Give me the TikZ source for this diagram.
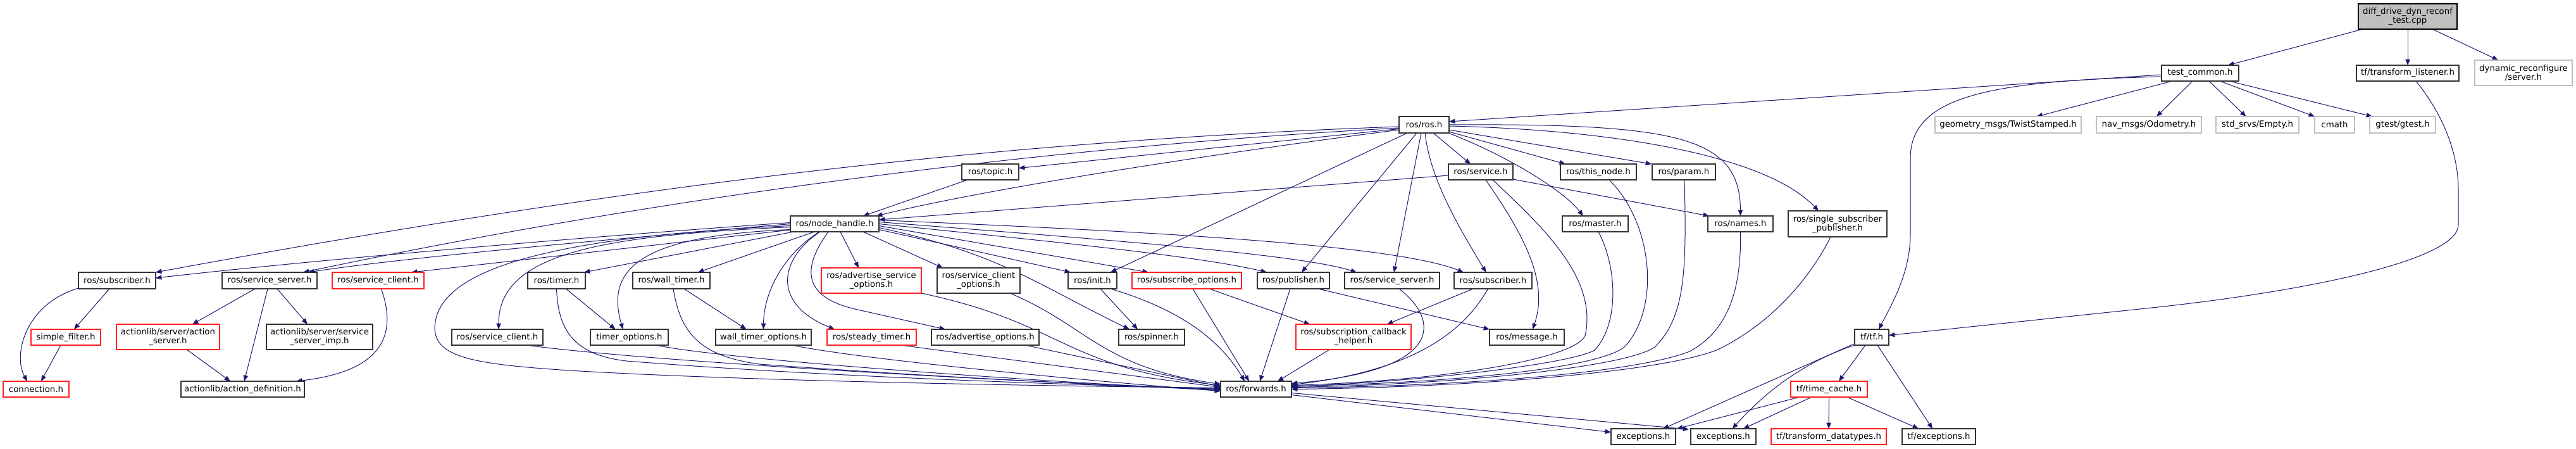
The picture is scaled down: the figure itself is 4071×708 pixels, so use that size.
\documentclass[tikz,border=0pt]{standalone}
\usepackage{fontspec}
\setmainfont{DejaVu Sans}
\usetikzlibrary{arrows.meta,calc}
\definecolor{edgec}{HTML}{191970}
\definecolor{grayb}{HTML}{BFBFBF}
\definecolor{redb}{HTML}{FF2020}
\pgfdeclarelayer{bg}
\pgfsetlayers{bg,main}
\tikzset{
 nbase/.style={draw, line width=1pt, inner sep=0pt, outer sep=0pt, align=center,
   font=\fontsize{10}{10.5}\selectfont, fill=white},
 blk/.style={nbase, draw=black!80},
 redn/.style={nbase, draw=redb},
 gryn/.style={nbase, draw=grayb},
 rootn/.style={nbase, draw=black, fill=grayb},
 dep/.style={draw=edgec, line width=0.75pt, -{Triangle[length=7pt,width=5.5pt]}},
}
\newcommand\nd[7]{\node[#6, minimum width={(#4-#2)*0.75pt}, minimum height={(#5-#3)*0.75pt}] (#1) at ({(#2+#4)/2},{(#3+#5)/2}) {#7};}
\begin{document}
\begin{tikzpicture}[x=0.75pt,y=-0.75pt]
\useasboundingbox (0,0) rectangle (4071,708);
\begin{pgfonlayer}{bg}
\fill[white] (0,0) rectangle (4071,708);
\end{pgfonlayer}
% nodes
\nd{root}{3727}{6}{3883}{46}{rootn}{diff\_drive\_dyn\_reconf\\\_test.cpp}
\nd{tc}{3416}{103}{3538}{128}{blk}{test\_common.h}
\nd{tfl}{3724}{103}{3886}{128}{blk}{tf/transform\_listener.h}
\nd{dyn}{3911}{95}{4065}{135}{gryn}{dynamic\_reconfigure\\/server.h}
\nd{ros}{2211}{184}{2290}{210}{blk}{ros/ros.h}
\nd{geo}{3058}{184}{3289}{210}{gryn}{geometry\_msgs/TwistStamped.h}
\nd{nav}{3313}{184}{3479}{210}{gryn}{nav\_msgs/Odometry.h}
\nd{srv}{3502}{184}{3633}{210}{gryn}{std\_srvs/Empty.h}
\nd{cmath}{3658}{184}{3721}{210}{gryn}{cmath}
\nd{gtest}{3745}{184}{3849}{210}{gryn}{gtest/gtest.h}
\nd{topic}{1520}{259}{1610}{284}{blk}{ros/topic.h}
\nd{service}{2289}{259}{2391}{284}{blk}{ros/service.h}
\nd{thisnode}{2466}{259}{2586}{284}{blk}{ros/this\_node.h}
\nd{param}{2611}{259}{2711}{284}{blk}{ros/param.h}
\nd{nh}{1249}{341}{1389}{366}{blk}{ros/node\_handle.h}
\nd{master}{2469}{341}{2573}{366}{blk}{ros/master.h}
\nd{names}{2699}{341}{2802}{366}{blk}{ros/names.h}
\nd{ssp}{2826}{333}{2982}{374}{blk}{ros/single\_subscriber\\\_publisher.h}
\nd{subL}{124}{430}{246}{456}{blk}{ros/subscriber.h}
\nd{ssL}{351}{430}{501}{456}{blk}{ros/service\_server.h}
\nd{scR}{525}{430}{670}{456}{redn}{ros/service\_client.h}
\nd{timer}{834}{430}{925}{456}{blk}{ros/timer.h}
\nd{wtimer}{1000}{430}{1122}{456}{blk}{ros/wall\_timer.h}
\nd{aso}{1298}{423}{1456}{463}{redn}{ros/advertise\_service\\\_options.h}
\nd{sco}{1481}{423}{1612}{463}{blk}{ros/service\_client\\\_options.h}
\nd{init}{1688}{430}{1765}{456}{blk}{ros/init.h}
\nd{subo}{1789}{430}{1962}{456}{redn}{ros/subscribe\_options.h}
\nd{pub}{1987}{430}{2101}{456}{blk}{ros/publisher.h}
\nd{ssR}{2125}{430}{2275}{456}{blk}{ros/service\_server.h}
\nd{subR}{2298}{430}{2421}{456}{blk}{ros/subscriber.h}
\nd{sf}{49}{520}{159}{545}{redn}{simple\_filter.h}
\nd{as}{184}{512}{347}{552}{redn}{actionlib/server/action\\\_server.h}
\nd{ssi}{421}{512}{589}{552}{blk}{actionlib/server/service\\\_server\_imp.h}
\nd{sc2}{714}{520}{858}{545}{blk}{ros/service\_client.h}
\nd{to}{933}{520}{1056}{545}{blk}{timer\_options.h}
\nd{wto}{1131}{520}{1282}{545}{blk}{wall\_timer\_options.h}
\nd{st}{1307}{520}{1448}{545}{redn}{ros/steady\_timer.h}
\nd{ao}{1472}{520}{1642}{545}{blk}{ros/advertise\_options.h}
\nd{spin}{1768}{520}{1872}{545}{blk}{ros/spinner.h}
\nd{sch}{2048}{512}{2230}{552}{redn}{ros/subscription\_callback\\\_helper.h}
\nd{msg}{2354}{520}{2472}{545}{blk}{ros/message.h}
\nd{tf}{2931}{520}{2985}{545}{blk}{tf/tf.h}
\nd{conn}{5}{602}{109}{627}{redn}{connection.h}
\nd{ad}{286}{602}{481}{627}{blk}{actionlib/action\_definition.h}
\nd{fwd}{1929}{602}{2041}{627}{blk}{ros/forwards.h}
\nd{tc2}{2830}{602}{2951}{627}{redn}{tf/time\_cache.h}
\nd{ex1}{2546}{677}{2648}{702}{blk}{exceptions.h}
\nd{ex2}{2672}{677}{2775}{702}{blk}{exceptions.h}
\nd{td}{2799}{677}{2981}{702}{redn}{tf/transform\_datatypes.h}
\nd{tfe}{3006}{677}{3122}{702}{blk}{tf/exceptions.h}
% edges
\begin{pgfonlayer}{bg}
% root
\draw[dep] ($(root.south west)+(7,0)$) -- ($(tc.north east)+(-17,0)$);
\draw[dep] (root.south) -- (tfl.north);
\draw[dep] ($(root.south east)+(-39,0)$) -- ($(dyn.north)+(-40,0)$);
% test_common
\draw[dep] ($(tc.west)+(0,2.5)$) -- ($(ros.east)+(0,-5)$);
\draw[dep] ($(tc.west)+(0,5.5)$) .. controls (3150,128) and (3019,150) .. (3019,250) -- (3019,370) .. controls (3019,430) and (2990,480) .. ($(tf.north)+(11,0)$);
\draw[dep] ($(tc.south west)+(17,0)$) -- ($(geo.north)+(45,0)$);
\draw[dep] ($(tc.south)+(-12,0)$) -- ($(nav.north)+(12,0)$);
\draw[dep] ($(tc.south)+(14,0)$) -- ($(srv.north)+(-18,0)$);
\draw[dep] ($(tc.south)+(31,0)$) -- (cmath.north west);
\draw[dep] ($(tc.south)+(46,0)$) -- ($(gtest.north)+(-48,0)$);
% transform_listener
\draw[dep] ($(tfl.south)+(13,0)$) .. controls (3860,180) and (3885,240) .. (3885,300) -- (3885,355) .. controls (3885,410) and (3650,460) .. (3391,487) -- ($(tf.east)+(0,-3)$);
% ros.h
\draw[dep] ($(ros.west)+(0,3)$) .. controls (1500,225) and (900,310) .. (subL.north east);
\draw[dep] ($(ros.west)+(0,5)$) .. controls (1600,235) and (1000,320) .. ($(ssL.north east)+(-22,0)$);
\draw[dep] ($(ros.west)+(0,6.5)$) -- ($(topic.east)+(0,-6)$);
\draw[dep] ($(ros.west)+(0,8)$) .. controls (1900,245) and (1550,300) .. ($(nh.north east)+(-4,0)$);
\draw[dep] ($(ros.south west)+(13,0)$) -- ($(init.north east)+(-10,0)$);
\draw[dep] ($(ros.south west)+(28,0)$) -- ($(pub.north)+(13,0)$);
\draw[dep] ($(ros.south west)+(35,0)$) -- ($(ssR.north)+(3,0)$);
\draw[dep] ($(ros.south west)+(41,0)$) .. controls (2260,280) and (2300,350) .. ($(subR.north)+(-11,0)$);
\draw[dep] ($(ros.south west)+(54,0)$) -- ($(service.north)+(-16,0)$);
\draw[dep] ($(ros.south east)+(-1,0)$) .. controls (2380,245) and (2470,300) .. ($(master.north)+(-19,0)$);
\draw[dep] ($(ros.east)+(0,11)$) -- ($(thisnode.north west)+(8,0)$);
\draw[dep] ($(ros.east)+(0,8)$) -- ($(param.north west)+(-1,0)$);
\draw[dep] (ros.east) .. controls (2650,195) and (2750,215) .. (names.north);
\draw[dep] ($(ros.east)+(0,2)$) .. controls (2550,205) and (2790,245) .. ($(ssp.north)+(-30,0)$);
% service.h
\draw[dep] ($(service.west)+(0,5.5)$) -- ($(nh.east)+(0,-6.5)$);
\draw[dep] ($(service.south east)+(0,-1)$) -- ($(names.north west)+(2,0)$);
\draw[dep] ($(service.south)+(8,0)$) .. controls (2400,360) and (2450,440) .. ($(msg.north)+(9,0)$);
\draw[dep] ($(service.south)+(19,0)$) .. controls (2440,360) and (2525,440) .. (2505,530) .. controls (2490,565) and (2300,600) .. ($(fwd.east)+(0,-6)$);
% this_node, param, master, names, ssp
\draw[dep] ($(thisnode.south)+(17,0)$) .. controls (2610,350) and (2625,480) .. (2570,545) .. controls (2540,580) and (2300,605) .. ($(fwd.east)+(0,-5)$);
\draw[dep] ($(param.south)+(1,0)$) .. controls (2665,420) and (2665,500) .. (2615,548) .. controls (2570,580) and (2300,607) .. ($(fwd.east)+(0,-3)$);
\draw[dep] ($(master.south)+(5,0)$) .. controls (2555,420) and (2560,510) .. (2520,553) .. controls (2480,575) and (2250,602) .. ($(fwd.east)+(0,-4)$);
\draw[dep] (names.south) .. controls (2752,450) and (2735,520) .. (2670,555) .. controls (2580,590) and (2300,610) .. ($(fwd.east)+(0,-2)$);
\draw[dep] ($(ssp.south)+(-11,0)$) .. controls (2860,440) and (2800,510) .. (2715,552) .. controls (2620,590) and (2300,612) .. (fwd.east);
% topic
\draw[dep] ($(topic.south west)+(9,0)$) -- ($(nh.north east)+(-25,0)$);
% node_handle
\draw[dep] ($(nh.west)+(0,-2)$) .. controls (950,372) and (500,410) .. ($(subL.east)+(0,-4)$);
\draw[dep] (nh.west) .. controls (1000,375) and (650,405) .. ($(ssL.north east)+(-14,0)$);
\draw[dep] ($(nh.south west)+(0,-3)$) -- ($(scR.north east)+(-20,0)$);
\draw[dep] ($(nh.west)+(0,5)$) .. controls (950,372) and (788,400) .. ($(sc2.north)+(2,0)$);
\draw[dep] ($(nh.west)+(0,3)$) .. controls (850,375) and (690,430) .. (687,517) .. controls (687,565) and (750,575) .. (900,585) .. controls (1200,603) and (1700,610) .. ($(fwd.west)+(0,-2)$);
\draw[dep] ($(nh.south west)+(5,0)$) -- ($(timer.north east)+(-2,0)$);
\draw[dep] ($(nh.south west)+(38,0)$) -- ($(wtimer.north east)+(-19,0)$);
\draw[dep] ($(nh.west)+(0,9)$) .. controls (1020,372) and (955,420) .. ($(to.north)+(-10,0)$);
\draw[dep] ($(nh.south)+(-24,0)$) .. controls (1240,400) and (1207,460) .. (wto.north);
\draw[dep] ($(nh.south)+(-23,0)$) .. controls (1230,410) and (1220,480) .. ($(st.north west)+(12,0)$);
\draw[dep] ($(nh.south)+(-10,0)$) .. controls (1270,420) and (1262,470) .. (1360,490) -- ($(ao.north west)+(22,0)$);
\draw[dep] ($(nh.south)+(9,0)$) -- ($(aso.north west)+(59,0)$);
\draw[dep] ($(nh.south east)+(-25,0)$) -- ($(sco.north west)+(9,0)$);
\draw[dep] ($(nh.east)+(0,9)$) -- ($(init.north west)+(4,0)$);
\draw[dep] ($(nh.east)+(0,6)$) .. controls (1580,400) and (1640,450) .. ($(spin.north west)+(17,0)$);
\draw[dep] ($(nh.east)+(0,3)$) -- ($(subo.north west)+(26,0)$);
\draw[dep] (nh.east) .. controls (1650,380) and (1900,405) .. ($(pub.north west)+(15,0)$);
\draw[dep] ($(nh.east)+(0,-3)$) .. controls (1700,375) and (2050,400) .. ($(ssR.north west)+(19,0)$);
\draw[dep] ($(nh.east)+(0,-6)$) .. controls (1800,365) and (2200,385) .. ($(subR.north west)+(15,0)$);
% left cluster
\draw[dep] ($(subL.south)+(-12,0)$) -- ($(sf.north)+(13,0)$);
\draw[dep] ($(subL.south west)+(0,-1)$) .. controls (40,480) and (20,560) .. ($(conn.north)+(-14,0)$);
\draw[dep] ($(sf.south)+(-8,0)$) -- ($(conn.north)+(8,0)$);
\draw[dep] ($(ssL.south west)+(52,0)$) -- ($(as.north east)+(-43,0)$);
\draw[dep] ($(ssL.south)+(-3,0)$) -- ($(ad.north)+(2.5,0)$);
\draw[dep] ($(ssL.south)+(12,0)$) -- ($(ssi.north)+(-19,0)$);
\draw[dep] ($(as.south)+(29.5,0)$) -- ($(ad.north)+(-19.5,0)$);
\draw[dep] ($(scR.south)+(5,0)$) .. controls (625,520) and (615,585) .. ($(ad.north east)+(-13,0)$);
% timers
\draw[dep] ($(timer.south)+(15,0)$) -- ($(to.north)+(-22,0)$);
\draw[dep] (timer.south) .. controls (882,520) and (905,560) .. (990,570) .. controls (1300,595) and (1700,608) .. ($(fwd.west)+(0,-1)$);
\draw[dep] ($(wtimer.south)+(20,0)$) -- ($(wto.north)+(-27,0)$);
\draw[dep] ($(wtimer.south)+(3,0)$) .. controls (1075,525) and (1105,562) .. (1200,575) .. controls (1500,597) and (1750,608) .. (fwd.west);
\draw[dep] ($(sc2.south)+(46,0)$) .. controls (1000,568) and (1500,598) .. ($(fwd.west)+(0,1)$);
\draw[dep] ($(to.south east)+(-20,0)$) .. controls (1150,568) and (1600,600) .. ($(fwd.west)+(0,2)$);
\draw[dep] ($(wto.south east)+(-30,0)$) .. controls (1350,566) and (1700,600) .. ($(fwd.west)+(0,3)$);
\draw[dep] ($(st.south east)+(-25,0)$) -- ($(fwd.west)+(0,-3)$);
\draw[dep] ($(ao.south east)+(-22,0)$) -- ($(fwd.west)+(0,-4)$);
\draw[dep] (aso.south east) .. controls (1680,510) and (1680,580) .. ($(fwd.west)+(0,-6)$);
\draw[dep] ($(sco.south east)+(-16,0)$) .. controls (1720,515) and (1740,580) .. ($(fwd.west)+(0,-8)$);
% init, subscribe_options, publisher
\draw[dep] ($(init.south east)+(-26,0)$) -- ($(spin.north west)+(30,0)$);
\draw[dep] ($(init.south east)+(-10,0)$) .. controls (1870,490) and (1930,540) .. ($(fwd.north west)+(38,0)$);
\draw[dep] ($(subo.south)+(9.5,0)$) -- ($(fwd.north west)+(45,0)$);
\draw[dep] ($(subo.south)+(35.5,0)$) -- ($(sch.north west)+(22,0)$);
\draw[dep] ($(pub.south)+(-5,0)$) -- ($(fwd.north)+(6,0)$);
\draw[dep] ($(pub.south east)+(-18,0)$) -- (msg.north west);
\draw[dep] ($(sch.south west)+(53,0)$) -- ($(fwd.north east)+(-22,0)$);
\draw[dep] ($(ssR.south)+(11,0)$) .. controls (2275,505) and (2285,585) .. ($(fwd.east)+(0,-9)$);
\draw[dep] ($(subR.south)+(-8,0)$) .. controls (2315,520) and (2240,585) .. ($(fwd.east)+(0,-7)$);
\draw[dep] ($(subR.south)+(-31.5,0)$) -- ($(sch.north east)+(-38,0)$);
% forwards -> exceptions
\draw[dep] ($(fwd.east)+(0,6)$) -- ($(ex2.north west)+(-3,1)$);
\draw[dep] ($(fwd.east)+(0,9)$) -- ($(ex1.west)+(0,-7)$);
% tf
\draw[dep] ($(tf.west)+(0,10)$) -- ($(ex1.north)+(31,0)$);
\draw[dep] (tf.south west) .. controls (2840,575) and (2780,630) .. ($(ex2.north)+(14,0)$);
\draw[dep] ($(tf.south)+(-10,0)$) -- ($(tc2.north)+(15.5,0)$);
\draw[dep] ($(tf.south)+(9,0)$) -- ($(tfe.north)+(-10,0)$);
\draw[dep] ($(tc2.south west)+(14,0)$) -- ($(ex1.north east)+(2,0)$);
\draw[dep] ($(tc2.south west)+(33,0)$) -- ($(ex2.north)+(31.5,0)$);
\draw[dep] (tc2.south) -- (td.north);
\draw[dep] ($(tc2.south east)+(-32,0)$) -- ($(tfe.north)+(-32,0)$);
\end{pgfonlayer}
\end{tikzpicture}
\end{document}
